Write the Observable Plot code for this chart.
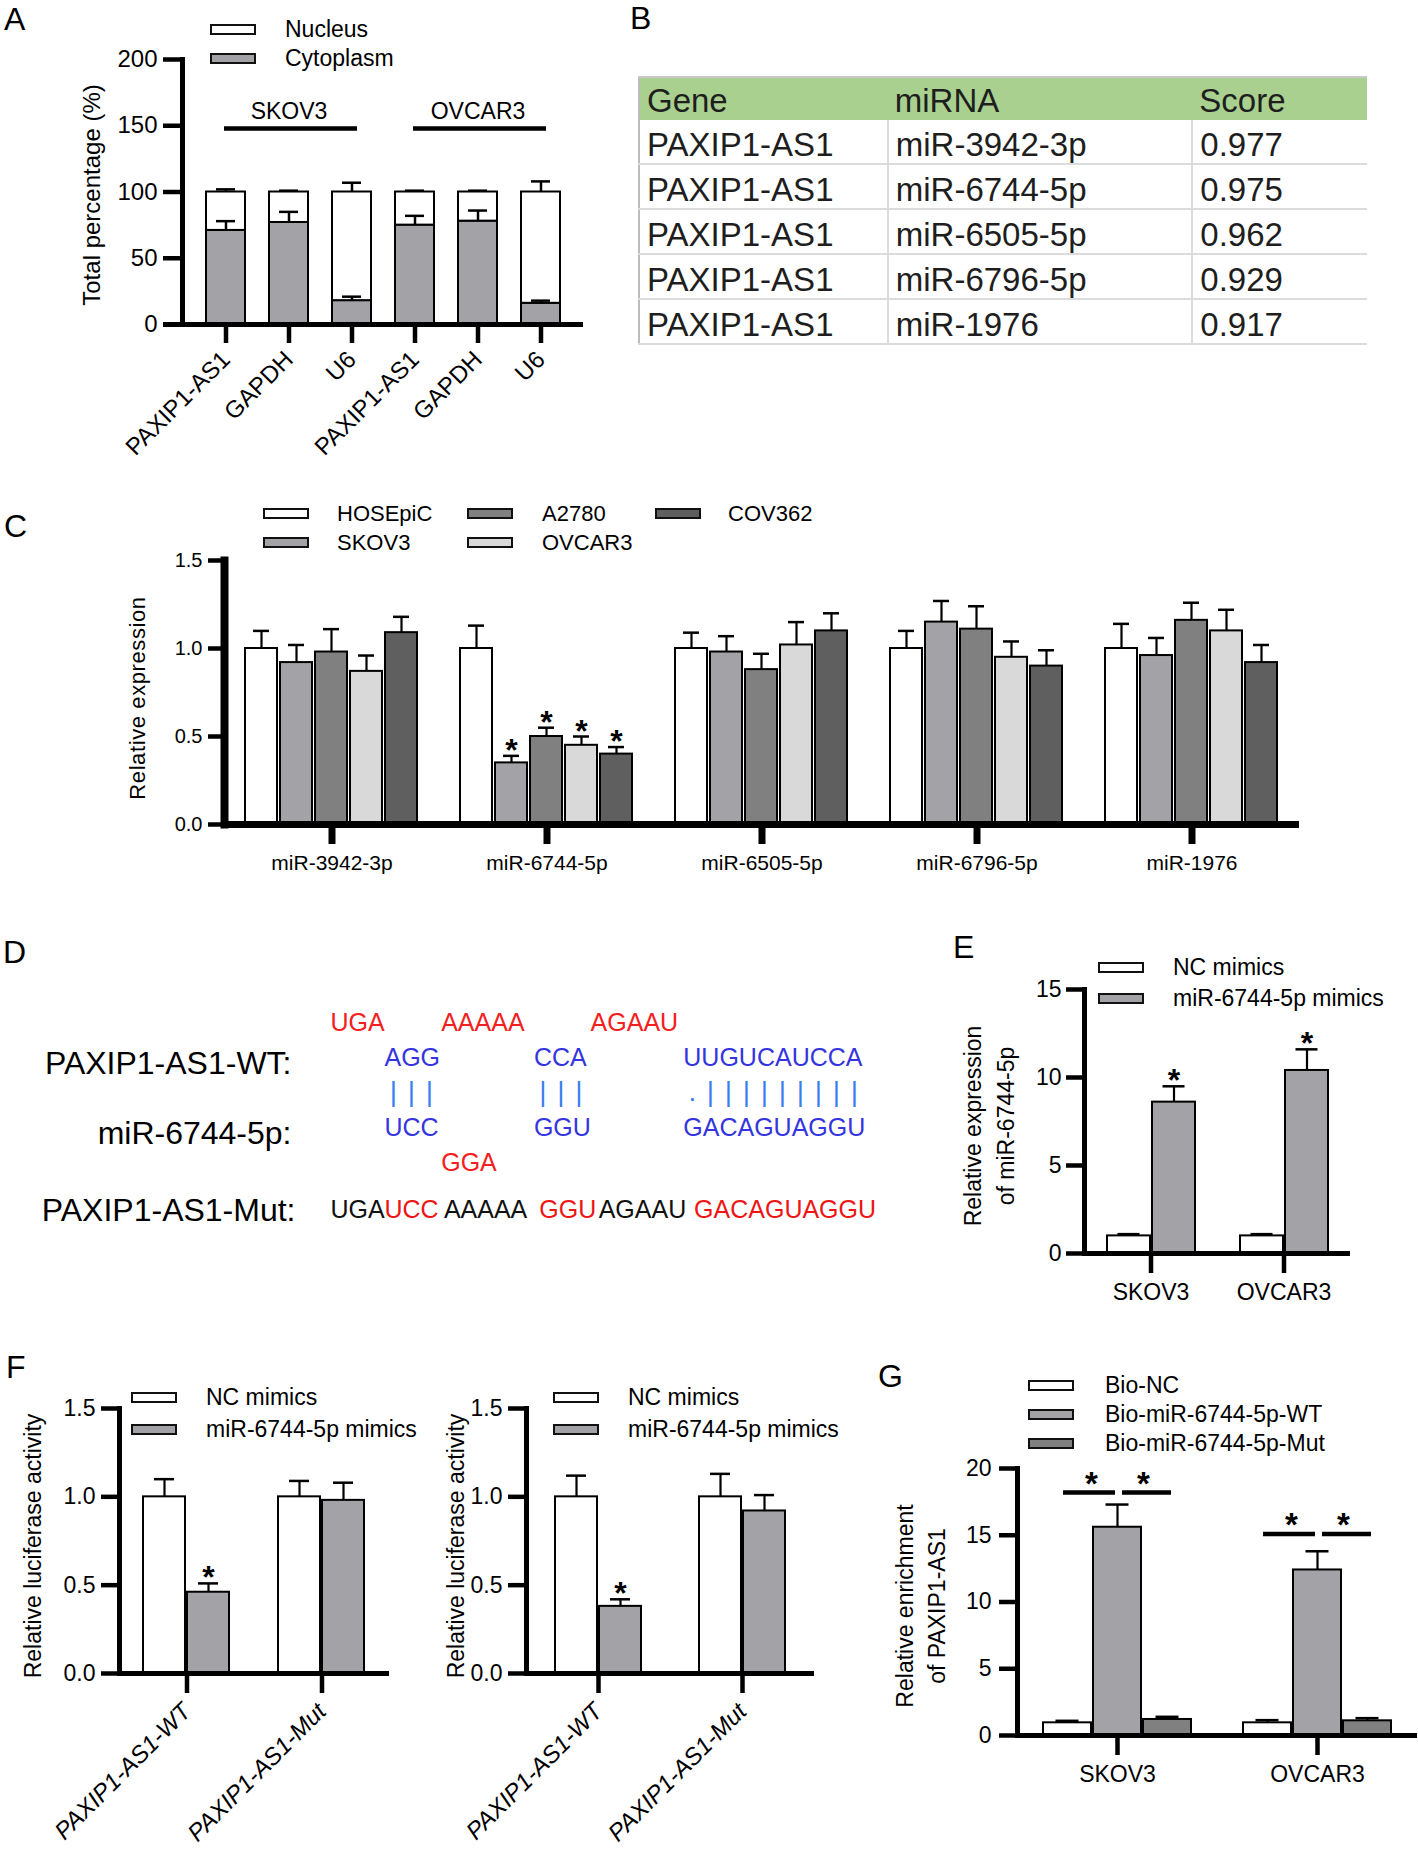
<!DOCTYPE html>
<html>
<head>
<meta charset="utf-8">
<script src="https://cdn.jsdelivr.net/npm/d3@7"></script>
<script src="https://cdn.jsdelivr.net/npm/@observablehq/plot@0.6"></script>
<style>
html,body{margin:0;padding:0;background:#fff;}
#fig{position:relative;width:1418px;height:1854px;overflow:hidden;background:#fff;font-family:Arial,"Liberation Sans",Helvetica,sans-serif;color:#000;}
#fig .abs{position:absolute;white-space:nowrap;}
#fig svg{display:block;}
table.mir{border-collapse:collapse;font-size:33px;color:#1e1e1e;table-layout:fixed;font-family:Arial,"Liberation Sans",sans-serif;}
table.mir td{padding:7px 0 0 7px;white-space:nowrap;overflow:hidden;height:36px;line-height:36px;}
</style>
</head>
<body>
<div id="fig"></div>
<script>
// ================= DATA =================
// Panel A: subcellular fractionation
const fracGenes = ["PAXIP1-AS1", "GAPDH", "U6", "PAXIP1-AS1", "GAPDH", "U6"];
const fracCells = ["SKOV3", "SKOV3", "SKOV3", "OVCAR3", "OVCAR3", "OVCAR3"];
const fracGroups = ["SKOV3", "OVCAR3"];
const fracParts = ["Nucleus", "Cytoplasm"];
const cytoplasmPct = [71, 77, 18, 75, 78, 16];
const cytoplasmErrTop = [78, 85, 21, 82, 86, 18];
const nucleusErrTop = [102, 101, 107, 101, 101, 108];

// Panel B: prediction table
const tableHeader = ["Gene", "miRNA", "Score"];
const tableGene = ["PAXIP1-AS1", "PAXIP1-AS1", "PAXIP1-AS1", "PAXIP1-AS1", "PAXIP1-AS1"];
const tableMiRNA = ["miR-3942-3p", "miR-6744-5p", "miR-6505-5p", "miR-6796-5p", "miR-1976"];
const tableScore = ["0.977", "0.975", "0.962", "0.929", "0.917"];

// Panel C: miRNA expression in cell lines
const cMirnas = ["miR-3942-3p", "miR-6744-5p", "miR-6505-5p", "miR-6796-5p", "miR-1976"];
const cCells = ["HOSEpiC", "SKOV3", "A2780", "OVCAR3", "COV362"];
const cHOSEpiC = [1.00, 1.00, 1.00, 1.00, 1.00];
const cSKOV3 = [0.92, 0.35, 0.98, 1.15, 0.96];
const cA2780 = [0.98, 0.50, 0.88, 1.11, 1.16];
const cOVCAR3 = [0.87, 0.45, 1.02, 0.95, 1.10];
const cCOV362 = [1.09, 0.40, 1.10, 0.90, 0.92];
const cHOSEpiCErr = [1.10, 1.13, 1.09, 1.10, 1.14];
const cSKOV3Err = [1.02, 0.39, 1.07, 1.27, 1.06];
const cA2780Err = [1.11, 0.55, 0.97, 1.24, 1.26];
const cOVCAR3Err = [0.96, 0.50, 1.15, 1.04, 1.22];
const cCOV362Err = [1.18, 0.44, 1.20, 0.99, 1.02];
const cStarMirna = "miR-6744-5p";
const cStarCells = ["SKOV3", "A2780", "OVCAR3", "COV362"];

// Panel D: binding sites (segment starts are indices into the aligned mutant string)
const mutAlign = "UGAUCC AAAAA GGU AGAAU GACAGUAGGU";
const seqRows = ["loop", "wt", "bond", "mir", "bulge"];
const seqText = ["UGA", "AAAAA", "AGAAU", "AGG", "CCA", "UUGUCAUCCA", "UCC", "GGU", "GACAGUAGGU", "GGA"];
const seqRow = ["loop", "loop", "loop", "wt", "wt", "wt", "mir", "mir", "mir", "bulge"];
const seqStart = [0, 7, 17, 3, 13, 23, 3, 13, 23, 7];
const seqKind = ["unpaired", "unpaired", "unpaired", "paired", "paired", "paired", "paired", "paired", "paired", "unpaired"];
const mutText = ["UGA", "UCC", "AAAAA", "GGU", "AGAAU", "GACAGUAGGU"];
const mutStart = [0, 3, 7, 13, 17, 23];
const mutKind = ["kept", "mutated", "kept", "mutated", "kept", "mutated"];
const seqKinds = ["unpaired", "paired", "kept", "mutated"];
const bondSymbols = ["|||", "|||", ".|||||||||"];
const bondStart = [3, 13, 23];
const seqLabelText = ["PAXIP1-AS1-WT:", "miR-6744-5p:"];
const seqLabelRow = ["wt", "mir"];
const mutLabelText = "PAXIP1-AS1-Mut:";

// Panel E: mimics transfection
const eCells = ["SKOV3", "OVCAR3"];
const eTreat = ["NC mimics", "miR-6744-5p mimics"];
const eNC = [1.0, 1.0];
const eNCErr = [1.1, 1.1];
const eMimic = [8.6, 10.4];
const eMimicErr = [9.5, 11.6];

// Panel F: luciferase
const fConstructs = ["PAXIP1-AS1-WT", "PAXIP1-AS1-Mut"];
const fLeftNC = [1.0, 1.0];
const fLeftNCErr = [1.10, 1.09];
const fLeftMimic = [0.46, 0.98];
const fLeftMimicErr = [0.51, 1.08];
const fLeftMimicSig = [true, false];
const fRightNC = [1.0, 1.0];
const fRightNCErr = [1.12, 1.13];
const fRightMimic = [0.38, 0.92];
const fRightMimicErr = [0.42, 1.01];
const fRightMimicSig = [true, false];

// Panel G: RNA pull-down
const gCells = ["SKOV3", "OVCAR3"];
const gSeries = ["Bio-NC", "Bio-miR-6744-5p-WT", "Bio-miR-6744-5p-Mut"];
const gBioNC = [0.95, 0.95];
const gBioNCErr = [1.10, 1.15];
const gWT = [15.6, 12.4];
const gWTErr = [17.3, 13.8];
const gMut = [1.2, 1.1];
const gMutErr = [1.4, 1.3];
const gSigLineY = [18.2, 15.1];

// ================= STYLE / HELPERS =================
const FONT = 'Arial, "Liberation Sans", Helvetica, sans-serif';
const GRAY = "#a3a3a7";
const C_COLORS = ["#ffffff", "#a3a3a7", "#808080", "#d9d9d9", "#5f5f5f"];
const fig = document.getElementById("fig");

function base(fs) {
  return {fontFamily: FONT, fontSize: fs + "px", background: "transparent", overflow: "visible", color: "#000"};
}
function fixFrame(svg, w) {
  svg.querySelectorAll('[aria-label="frame"]').forEach(el => {
    el.setAttribute("stroke-width", w);
    el.setAttribute("stroke", "#000");
    el.querySelectorAll("line,rect,path").forEach(c => c.setAttribute("stroke-width", w));
  });
  return svg;
}
function place(node, left, top, width) {
  const d = document.createElement("div");
  d.className = "abs";
  d.style.left = left + "px";
  d.style.top = top + "px";
  if (width) d.style.width = width + "px";
  d.appendChild(node);
  fig.appendChild(d);
  return d;
}
function txt(str, x, baseline, size, opts = {}) {
  const d = document.createElement("div");
  d.className = "abs";
  d.textContent = str;
  d.style.fontSize = size + "px";
  d.style.lineHeight = size + "px";
  d.style.left = x + "px";
  d.style.top = (baseline - 0.8465 * size) + "px";
  if (opts.anchor === "middle") d.style.transform = "translateX(-50%)";
  if (opts.anchor === "end") d.style.transform = "translateX(-100%)";
  if (opts.color) d.style.color = opts.color;
  fig.appendChild(d);
  return d;
}
function ytitle(lines, cx, cy, size, lh, extra = {}) {
  const d = document.createElement("div");
  d.className = "abs";
  lines.forEach((s, i) => {
    if (i) d.appendChild(document.createElement("br"));
    d.appendChild(document.createTextNode(s));
  });
  Object.assign(d.style, {
    left: cx + "px", top: cy + "px", fontSize: size + "px",
    lineHeight: (lh || Math.round(size * 1.15)) + "px", textAlign: "center",
    transform: "translate(-50%,-50%) rotate(-90deg)"
  }, extra);
  fig.appendChild(d);
}
function legend(labels, fills, positions, size) {
  labels.forEach((lab, i) => {
    const [bx, cy, tx] = positions[i];
    const sw = document.createElement("div");
    sw.className = "abs";
    Object.assign(sw.style, {
      left: bx + "px", top: (cy - 5.5) + "px", width: "46px", height: "11px",
      background: fills[i], border: "2.5px solid #111", boxSizing: "border-box"
    });
    fig.appendChild(sw);
    txt(lab, tx, cy + 0.36 * size, size);
  });
}

// generic grouped bar chart (facets = groups, x = series)
function barChart(cfg) {
  const {data, groups, series, colors, yMax, yTicks, yFormat, W, H, mL, mR, mT, mB,
    tick = 18, xTick = tick + 2, fs = 23, tickFs = fs, xFs = fs, padIn, padOut, cap, axisW = 5, xAxisW = axisW,
    tickW = 4.5, xTickW = tickW, starDy = -6, starFs = 32, rotate = 0, italic = false, xPad = 10, yPad = 6, extra = []} = cfg;
  const fxOpts = {anchor: "bottom", tickSize: xTick, tickPadding: xPad, strokeWidth: xTickW, fontSize: xFs, label: null};
  if (rotate) fxOpts.tickRotate = rotate;
  if (italic) fxOpts.fontStyle = "italic";
  const svg = Plot.plot({
    width: W, height: H, marginLeft: mL, marginRight: mR, marginTop: mT, marginBottom: mB,
    style: base(fs),
    fx: {domain: groups, padding: 0},
    x: {domain: series, paddingInner: padIn, paddingOuter: padOut, axis: null},
    y: {domain: [0, yMax]},
    color: {type: "ordinal", domain: series, range: colors},
    marks: [
      Plot.barY(data, {fx: "group", x: "series", y: "value", fill: "series", stroke: "#000", strokeWidth: 2}),
      Plot.ruleX(data, {fx: "group", x: "series", y1: "value", y2: "err", strokeWidth: 2.2}),
      Plot.tickY(data, {fx: "group", x: "series", y: "err", strokeWidth: 2.5, insetLeft: cap, insetRight: cap}),
      Plot.text(data.filter(d => d.sig), {fx: "group", x: "series", y: "err", text: () => "*", dy: starDy, fontSize: starFs, fontWeight: "bold"}),
      ...extra,
      Plot.ruleY([0], {stroke: "#000", strokeWidth: xAxisW}),
      Plot.frame({anchor: "left", facetAnchor: "left", stroke: "#000", strokeWidth: axisW}),
      Plot.axisY({ticks: yTicks, tickFormat: yFormat, tickSize: tick, tickPadding: yPad, strokeWidth: tickW,
        fontSize: tickFs, label: null}),
      Plot.axisFx(fxOpts)
    ]
  });
  return fixFrame(svg, axisW);
}

// ================= PANEL LETTERS =================
[["A", 4, 30], ["B", 630, 29], ["C", 4, 537], ["D", 3, 963], ["E", 953, 958], ["F", 6, 1378], ["G", 878, 1387]]
  .forEach(([l, x, b]) => txt(l, x, b, 32));

// ================= PANEL A =================
const aKeys = fracCells.map((c, i) => `${c}|${fracGenes[i]}`);
const aData = aKeys.map((key, i) => ({key, cyt: cytoplasmPct[i], cytErr: cytoplasmErrTop[i], nucErr: nucleusErrTop[i]}));
const aGroups = fracGroups.map(g => {
  const ks = aKeys.filter(k => k.startsWith(g + "|"));
  return {cell: g, first: ks[0], mid: ks[Math.floor(ks.length / 2)], last: ks[ks.length - 1]};
});
const A_TOTAL = 100, A_GROUP_LINE = 148, A_GROUP_LABEL = 161;
const plotA = fixFrame(Plot.plot({
  width: 620, height: 480, marginLeft: 182, marginRight: 37, marginTop: 59, marginBottom: 156,
  style: base(23),
  x: {domain: aKeys, paddingInner: 0.381, paddingOuter: 0.373},
  y: {domain: [0, 200]},
  marks: [
    Plot.barY(aData, {x: "key", y1: 0, y2: "cyt", fill: GRAY, stroke: "#000", strokeWidth: 2}),
    Plot.barY(aData, {x: "key", y1: "cyt", y2: A_TOTAL, fill: "#fff", stroke: "#000", strokeWidth: 2}),
    Plot.ruleX(aData, {x: "key", y1: A_TOTAL, y2: "nucErr", strokeWidth: 2.5}),
    Plot.tickY(aData, {x: "key", y: "nucErr", strokeWidth: 2.5, insetLeft: 10, insetRight: 10}),
    Plot.ruleX(aData, {x: "key", y1: "cyt", y2: "cytErr", strokeWidth: 2.5}),
    Plot.tickY(aData, {x: "key", y: "cytErr", strokeWidth: 2.5, insetLeft: 10, insetRight: 10}),
    Plot.ruleY(aGroups, {x1: "first", x2: "last", y: A_GROUP_LINE, strokeWidth: 4.5, insetLeft: 18, insetRight: 14}),
    Plot.text(aGroups, {x: "mid", y: A_GROUP_LABEL, text: "cell", fontSize: 23}),
    Plot.ruleY([0], {stroke: "#000", strokeWidth: 5, insetLeft: -19}),
    Plot.frame({anchor: "left", stroke: "#000", strokeWidth: 5}),
    Plot.axisY({ticks: [0, 50, 100, 150, 200], tickSize: 19, tickPadding: 6, strokeWidth: 4.5, fontSize: 24, label: null}),
    Plot.axisX({tickSize: 19, tickPadding: 12, strokeWidth: 4.5, tickRotate: -45, fontSize: 24, label: null,
      tickFormat: k => k.split("|")[1]})
  ]
}), 5);
place(plotA, 0, 0, 620);
legend(fracParts, ["#fff", GRAY], [[210, 29, 285], [210, 58, 285]], 23);
ytitle(["Total percentage (%)"], 92, 195, 24);

// ================= PANEL B =================
{
  const tbl = document.createElement("table");
  tbl.className = "mir";
  const colW = [249, 305, 175];
  const cg = document.createElement("colgroup");
  colW.forEach(w => { const c = document.createElement("col"); c.style.width = w + "px"; cg.appendChild(c); });
  tbl.appendChild(cg);
  const hr = document.createElement("tr");
  tableHeader.forEach((h, j) => {
    const td = document.createElement("td");
    td.textContent = h;
    Object.assign(td.style, {background: "#a9d08e", borderTop: "2px solid #c9c9c9",
      borderLeft: j === 0 ? "2px solid #bdbdbd" : "none", paddingTop: "3px", height: "39px", lineHeight: "39px"});
    hr.appendChild(td);
  });
  tbl.appendChild(hr);
  tableGene.forEach((g, i) => {
    const tr = document.createElement("tr");
    [g, tableMiRNA[i], tableScore[i]].forEach((v, j) => {
      const td = document.createElement("td");
      td.textContent = v;
      Object.assign(td.style, {borderBottom: "2px solid #dcdcdc",
        borderRight: j < 2 ? "2px solid #dcdcdc" : "none",
        borderLeft: j === 0 ? "2px solid #bdbdbd" : "2px solid #dcdcdc"});
      tr.appendChild(td);
    });
    tbl.appendChild(tr);
  });
  place(tbl, 638, 76, 729);
}

// ================= PANEL C =================
const cMeans = [cHOSEpiC, cSKOV3, cA2780, cOVCAR3, cCOV362];
const cErrs = [cHOSEpiCErr, cSKOV3Err, cA2780Err, cOVCAR3Err, cCOV362Err];
const cData = cCells.flatMap((s, si) => cMirnas.map((g, gi) => ({
  group: g, series: s, value: cMeans[si][gi], err: cErrs[si][gi],
  sig: g === cStarMirna && cStarCells.includes(s)
})));
const plotC = barChart({
  data: cData, groups: cMirnas, series: cCells, colors: C_COLORS, yMax: 1.5, yTicks: [0, 0.5, 1, 1.5], yFormat: ".1f",
  W: 1418, H: 355, mL: 223, mR: 118, mT: 15, mB: 76, tick: 16, xTick: 20, fs: 20, tickFs: 20, xFs: 21,
  padIn: 0.083, padOut: 0.53, cap: 8, axisW: 8, xAxisW: 7, tickW: 4.5, xTickW: 7, starDy: -5, starFs: 32, xPad: 11, yPad: 6
});
place(plotC, 0, 545, 1418);
legend(cCells, C_COLORS, [[263, 513.5, 337], [263, 542.5, 337], [467, 513.5, 542], [467, 542.5, 542], [655, 513.5, 728]], 22);
ytitle(["Relative expression"], 137, 698, 22, null, {letterSpacing: "0.6px"});

// ================= PANEL D =================
{
  // visual width of a space, in letter units (duplex rows are set a little tighter than the mutant row)
  const alignPos = (i, spaceUnits) => {
    const spaces = (mutAlign.slice(0, i).match(/ /g) || []).length;
    return (i - spaces) + spaceUnits * spaces;
  };
  const DUPLEX_SPACE = 0.15, MUT_SPACE = 0.3, PX_PER_LETTER = 18;
  const alignLen = alignPos(mutAlign.length, MUT_SPACE);
  const xD = {domain: [0, alignLen], axis: null};
  const mR = 900 - 330 - PX_PER_LETTER * alignLen;
  const colorD = {type: "ordinal", domain: seqKinds, range: ["#f42020", "#3535e0", "#111111", "#ee1515"]};
  const dSegs = seqText.map((t, i) => ({text: t, row: seqRow[i], pos: alignPos(seqStart[i], DUPLEX_SPACE), kind: seqKind[i]}));
  const dBonds = bondSymbols.flatMap((s, g) => Array.from(s, (ch, i) => ({sym: ch, pos: alignPos(bondStart[g], DUPLEX_SPACE) + i + 0.5})));
  const dLabels = seqLabelText.map((t, i) => ({text: t, row: seqLabelRow[i]}));
  const plotD = Plot.plot({
    width: 900, height: 190, marginLeft: 330, marginRight: mR, marginTop: 30.6, marginBottom: 16.2,
    style: base(25),
    x: xD,
    y: {domain: seqRows, type: "point", padding: 0, axis: null},
    color: colorD,
    marks: [
      Plot.text(dSegs, {x: "pos", y: "row", text: "text", fill: "kind", textAnchor: "start", fontSize: 25}),
      Plot.text(dBonds, {x: "pos", y: () => "bond", text: "sym", fill: "#3a7ff0", fontSize: 28}),
      Plot.text(dLabels, {frameAnchor: "left", y: "row", text: "text", textAnchor: "end", dx: -39, dy: 6, fontSize: 32, fill: "#000"})
    ]
  });
  place(plotD, 0, 990, 900);
  const mSegs = mutText.map((t, i) => ({text: t, pos: alignPos(mutStart[i], MUT_SPACE), kind: mutKind[i]}));
  const plotDm = Plot.plot({
    width: 900, height: 48, marginLeft: 330, marginRight: mR, marginTop: 0, marginBottom: 0,
    style: base(25),
    x: xD,
    color: colorD,
    marks: [
      Plot.text(mSegs, {x: "pos", text: "text", fill: "kind", textAnchor: "start", fontSize: 25}),
      Plot.text([mutLabelText], {frameAnchor: "left", text: d => d, textAnchor: "end", dx: -35, dy: 1, fontSize: 32, fill: "#000"})
    ]
  });
  place(plotDm, 0, 1185, 900);
}

// ================= PANEL E =================
const eData = eCells.flatMap((c, i) => [
  {group: c, series: eTreat[0], value: eNC[i], err: eNCErr[i], sig: false},
  {group: c, series: eTreat[1], value: eMimic[i], err: eMimicErr[i], sig: true}
]);
const plotE = barChart({
  data: eData, groups: eCells, series: eTreat, colors: ["#ffffff", GRAY], yMax: 15, yTicks: [0, 5, 10, 15],
  W: 458, H: 380, mL: 123, mR: 68, mT: 29, mB: 87, tick: 18, fs: 23, padIn: 0.05, padOut: 0.5, cap: 10.5,
  starDy: -6, xPad: 10, yPad: 5
});
place(plotE, 960, 960, 458);
legend(eTreat, ["#fff", GRAY], [[1098, 967, 1173], [1098, 998, 1173]], 23);
ytitle(["Relative expression", "of miR-6744-5p"], 990, 1126, 23, 33);

// ================= PANEL F =================
function fData(nc, ncErr, mim, mimErr, sig) {
  return fConstructs.flatMap((c, i) => [
    {group: c, series: eTreat[0], value: nc[i], err: ncErr[i], sig: false},
    {group: c, series: eTreat[1], value: mim[i], err: mimErr[i], sig: sig[i]}
  ]);
}
const plotF1 = barChart({
  data: fData(fLeftNC, fLeftNCErr, fLeftMimic, fLeftMimicErr, fLeftMimicSig), groups: fConstructs, series: eTreat,
  colors: ["#ffffff", GRAY], yMax: 1.5, yTicks: [0, 0.5, 1, 1.5], yFormat: ".1f",
  W: 420, H: 474, mL: 118, mR: 31, mT: 28, mB: 181, tick: 18, fs: 23, xFs: 24, padIn: 0.045, padOut: 0.54, cap: 11,
  rotate: -45, italic: true, xPad: 14, yPad: 6, starDy: -6
});
place(plotF1, 0, 1380, 420);
const plotF2 = barChart({
  data: fData(fRightNC, fRightNCErr, fRightMimic, fRightMimicErr, fRightMimicSig), groups: fConstructs, series: eTreat,
  colors: ["#ffffff", GRAY], yMax: 1.5, yTicks: [0, 0.5, 1, 1.5], yFormat: ".1f",
  W: 440, H: 474, mL: 105, mR: 46, mT: 28, mB: 181, tick: 18, fs: 23, xFs: 24, padIn: 0.045, padOut: 0.646, cap: 11,
  rotate: -45, italic: true, xPad: 14, yPad: 6, starDy: -6
});
place(plotF2, 420, 1380, 440);
legend(eTreat, ["#fff", GRAY], [[131, 1397, 206], [131, 1429, 206]], 23);
legend(eTreat, ["#fff", GRAY], [[553, 1397, 628], [553, 1429, 628]], 23);
ytitle(["Relative luciferase activity"], 33, 1546, 23);
ytitle(["Relative luciferase activity"], 456, 1546, 23);

// ================= PANEL G =================
const gMeans = [gBioNC, gWT, gMut];
const gErrs = [gBioNCErr, gWTErr, gMutErr];
const gData = gCells.flatMap((c, i) => gSeries.map((s, si) => ({group: c, series: s, value: gMeans[si][i], err: gErrs[si][i], sig: false})));
const gSigLeft = gCells.map((c, i) => ({group: c, from: gSeries[0], to: gSeries[1], y: gSigLineY[i]}));
const gSigRight = gCells.map((c, i) => ({group: c, from: gSeries[1], to: gSeries[2], y: gSigLineY[i]}));
const plotG = barChart({
  data: gData, groups: gCells, series: gSeries, colors: ["#ffffff", GRAY, "#808080"], yMax: 20, yTicks: [0, 5, 10, 15, 20],
  W: 558, H: 414, mL: 156, mR: 1, mT: 28, mB: 119, tick: 18, fs: 23, padIn: 0.05, padOut: 0.525, cap: 12.5,
  xPad: 10, yPad: 8,
  extra: [
    Plot.ruleY(gSigLeft, {fx: "group", x1: "from", x2: "to", y: "y", strokeWidth: 4.5, insetLeft: 20, insetRight: 26}),
    Plot.ruleY(gSigRight, {fx: "group", x1: "from", x2: "to", y: "y", strokeWidth: 4.5, insetLeft: 29, insetRight: 20}),
    Plot.text(gSigLeft, {fx: "group", x: "to", y: "y", text: () => "*", dx: -26, dy: -8, fontSize: 33, fontWeight: "bold"}),
    Plot.text(gSigRight, {fx: "group", x: "from", y: "y", text: () => "*", dx: 26, dy: -8, fontSize: 33, fontWeight: "bold"})
  ]
});
place(plotG, 860, 1440, 558);
legend(gSeries, ["#fff", GRAY, "#808080"], [[1028, 1385, 1105], [1028, 1414, 1105], [1028, 1443, 1105]], 23);
ytitle(["Relative enrichment", "of PAXIP1-AS1"], 921, 1606, 23, 32);
</script>
</body>
</html>
